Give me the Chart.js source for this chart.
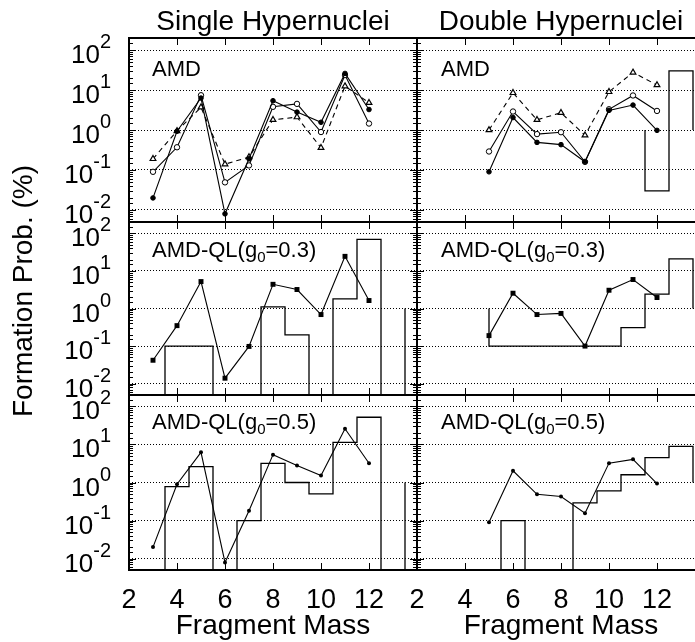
<!DOCTYPE html>
<html><head><meta charset="utf-8">
<script src="https://cdn.jsdelivr.net/npm/chart.js@4.4.1/dist/chart.umd.min.js"></script>
<style>
html,body{margin:0;padding:0;background:#fff;overflow:hidden}
#wrap{position:relative;width:695px;height:642px;overflow:hidden;background:#fff;font-family:'Liberation Sans',Arial,Helvetica,sans-serif;color:#000}
#wrap canvas{position:absolute;left:0;top:0}
.t{position:absolute;white-space:nowrap;line-height:1}
.c{text-align:center}
.sub{font-size:15px;position:relative;top:5px}
</style></head><body>
<div id="wrap">
<canvas id="c0" width="720" height="642"></canvas>
<canvas id="c1" width="720" height="642"></canvas>
<canvas id="c2" width="720" height="642"></canvas>
<canvas id="c3" width="720" height="642"></canvas>
<canvas id="c4" width="720" height="642"></canvas>
<canvas id="c5" width="720" height="642"></canvas>
<div class="t c" style="left:123px;width:300px;top:7px;font-size:28px">Single Hypernuclei</div>
<div class="t c" style="left:411px;width:300px;top:7px;font-size:28px">Double Hypernuclei</div>
<div class="t c" style="left:123px;width:300px;top:611px;font-size:28px">Fragment Mass</div>
<div class="t c" style="left:411px;width:300px;top:611px;font-size:28px">Fragment Mass</div>
<div class="t c" style="left:-147px;top:277px;width:340px;height:28px;line-height:28px;font-size:28px;transform:rotate(-90deg)">Formation Prob. (%)</div>
<div class="t" style="left:152px;top:58px;font-size:22px">AMD</div>
<div class="t" style="left:441px;top:58px;font-size:22px">AMD</div>
<div class="t" style="left:152px;top:239px;font-size:22px">AMD-QL(g<span class="sub">0</span>=0.3)</div>
<div class="t" style="left:441px;top:239px;font-size:22px">AMD-QL(g<span class="sub">0</span>=0.3)</div>
<div class="t" style="left:152px;top:411px;font-size:22px">AMD-QL(g<span class="sub">0</span>=0.5)</div>
<div class="t" style="left:441px;top:411px;font-size:22px">AMD-QL(g<span class="sub">0</span>=0.5)</div>
</div>
<script>
// ---------------- data ----------------
const massSingle = [3, 4, 5, 6, 7, 8, 9, 10, 11, 12];
const massDouble = [5, 6, 7, 8, 9, 10, 11, 12];

// AMD (top row)
const singleAMDFilled = [0.02, 0.93, 6.3, 0.008, 0.19, 5.4, 2.8, 1.56, 26, 3.25];
const singleAMDOpen   = [0.09, 0.37, 7.4, 0.049, 0.13, 3.8, 4.5, 0.89, 23.6, 1.45];
const singleAMDTri    = [0.19, 0.95, 3.7, 0.14, 0.21, 1.8, 2.1, 0.36, 12.5, 4.8];
const doubleAMDFilled = [0.09, 2.05, 0.49, 0.43, 0.16, 3.1, 4.2, 0.98];
const doubleAMDOpen   = [0.29, 2.9, 0.79, 0.88, 0.16, 3.3, 7.3, 3.0];
const doubleAMDTri    = [1.0, 8.5, 1.8, 2.7, 0.74, 9.0, 27.6, 13.3];

// AMD-QL g0=0.3 (middle row)
const singleQL3 = [0.042, 0.35, 5.2, 0.014, 0.098, 4.4, 3.2, 0.69, 24.4, 1.63];
const doubleQL3 = [0.19, 2.55, 0.69, 0.74, 0.10, 3.06, 5.9, 1.96];

// AMD-QL g0=0.5 (bottom row)
const singleQL5 = [0.02, 0.9, 6.2, 0.0079, 0.18, 5.4, 2.8, 1.53, 25.9, 3.2];
const doubleQL5 = [0.09, 2.03, 0.49, 0.43, 0.155, 3.23, 4.06, 0.94];

// histograms: bin edges, bin contents, [start level, end level]
const histDoubleAMDEdges = [11.5, 12.5, 13.5];
const histDoubleAMDVals  = [0.03, 30];
const histDoubleAMDEnds  = [1, 1];
const histSingleQL3Edges = [3.5, 5.5, 7.5, 8.5, 9.5, 10.5, 11.5, 12.5, 13.5];
const histSingleQL3Vals  = [0.1, 0, 1.1, 0.2, 0, 1.8, 69, 0];
const histSingleQL3Ends  = [0, 1];
const histDoubleQL3Edges = [5, 10.5, 11.5, 12.5, 13.5];
const histDoubleQL3Vals  = [0.1, 0.31, 2.4, 20.8];
const histDoubleQL3Ends  = [1, 1];
const histSingleQL5Edges = [3.5, 4.5, 5.5, 6.5, 7.5, 8.5, 9.5, 10.5, 11.5, 12.5, 13.5];
const histSingleQL5Vals  = [0.78, 2.6, 0, 0.1, 3.2, 1.0, 0.5, 11.4, 52, 0];
const histSingleQL5Ends  = [0, 1];
const histDoubleQL5Edges = [5.5, 6.5, 8.5, 9.5, 10.5, 11.5, 12.5, 13.5];
const histDoubleQL5Vals  = [0.1, 0, 0.29, 0.6, 1.6, 4.5, 8.9];
const histDoubleQL5Ends  = [0, 1];

// ticks
const xTickValues = [2, 4, 6, 8, 10, 12];
const xTickLabels = ['2', '4', '6', '8', '10', '12'];
const yTickValues = [100, 10, 1, 0.1, 0.01];
const yTickExps   = ['2', '1', '0', '-1', '-2'];

// ---------------- layout ----------------
const FONT = "'Liberation Sans', Arial, Helvetica, sans-serif";
const W = 720, H = 642;
const cols = [[129, 417], [417, 705]];
const rows = [[38, 222], [222, 395], [395, 570]];
const X_MIN = 2, X_MAX = 14, Y_MIN = 0.005, Y_MAX = 200;
const BELOW = 1e-4; // level used for empty bins (below the axis)

function isDecade(v) { const l = Math.log10(v); return Math.abs(l - Math.round(l)) < 1e-6; }
function pts(xs, ys) { return xs.map((x, i) => ({ x, y: ys[i] })); }
function lvl(v) { return v > 0 ? v : BELOW; }
function histPts(edges, vals, ends) {
  const p = [{ x: edges[0], y: lvl(ends[0]) }];
  vals.forEach((v, i) => p.push({ x: edges[i], y: lvl(v) }));
  p.push({ x: edges[edges.length - 1], y: lvl(ends[1]) });
  return p;
}

const sFilled = { borderColor: '#000', borderWidth: 1.1, pointStyle: 'circle', pointRadius: 2.3, pointBackgroundColor: '#000', pointBorderColor: '#000', pointBorderWidth: 1 };
const sOpen   = { borderColor: '#000', borderWidth: 1.1, pointStyle: 'circle', pointRadius: 2.7, pointBackgroundColor: '#fff', pointBorderColor: '#000', pointBorderWidth: 1 };
const sTri    = { borderColor: '#000', borderWidth: 1.1, borderDash: [5, 4], pointStyle: 'triangle', pointRadius: 3.3, pointBackgroundColor: '#fff', pointBorderColor: '#000', pointBorderWidth: 1.2 };
const sSquare = { borderColor: '#000', borderWidth: 1.1, pointStyle: 'rect', pointRadius: 3.5, pointBackgroundColor: '#000', pointBorderColor: '#000', pointBorderWidth: 0 };
const sSmall  = { borderColor: '#000', borderWidth: 1.1, pointStyle: 'circle', pointRadius: 2.0, pointBackgroundColor: '#000', pointBorderColor: '#000', pointBorderWidth: 0 };
const sHist   = { borderColor: '#000', borderWidth: 1.3, pointRadius: 0, stepped: 'before', clip: 0 };

function line(xs, ys, style) { return Object.assign({ data: pts(xs, ys), fill: false, tension: 0, clip: 0 }, style); }
function hist(e, v, ends) { return Object.assign({ data: histPts(e, v, ends), fill: false }, sHist); }

const framePlugin = {
  id: 'frame',
  afterDraw(chart, args, opts) {
    const { ctx, chartArea: a, scales: { x, y } } = chart;
    ctx.save();
    ctx.strokeStyle = '#000';
    ctx.lineWidth = 1;
    ctx.setLineDash([]);
    ctx.beginPath();
    x.ticks.forEach(t => {
      const px = Math.round(x.getPixelForValue(t.value)) + 0.5;
      ctx.moveTo(px, a.bottom); ctx.lineTo(px, a.bottom - 7);
      ctx.moveTo(px, a.top); ctx.lineTo(px, a.top + 7);
    });
    y.ticks.forEach(t => {
      const py = Math.round(y.getPixelForValue(t.value)) + 0.5;
      const len = isDecade(t.value) ? 7 : 4;
      ctx.moveTo(a.left, py); ctx.lineTo(a.left + len, py);
      ctx.moveTo(a.right, py); ctx.lineTo(a.right - len, py);
    });
    ctx.stroke();
    ctx.lineWidth = 2;
    ctx.strokeRect(a.left, a.top, a.right - a.left, a.bottom - a.top);
    if (opts.yLabels) {
      ctx.fillStyle = '#000';
      ctx.textBaseline = 'alphabetic';
      ctx.textAlign = 'right';
      const xr = a.left - 18;
      yTickValues.forEach((v, i) => {
        const py = y.getPixelForValue(v);
        ctx.font = '20px ' + FONT;
        const ew = ctx.measureText(yTickExps[i]).width;
        ctx.fillText(yTickExps[i], xr, py - 2);
        ctx.font = '26px ' + FONT;
        ctx.fillText('10', xr - ew, py + 13);
      });
    }
    ctx.restore();
  }
};

function makeChart(id, col, row, datasets) {
  const [l, r] = cols[col], [t, b] = rows[row];
  const bottomRow = row === 2;
  const xh = bottomRow ? 60 : 0;
  return new Chart(document.getElementById(id), {
    type: 'line',
    data: { datasets },
    options: {
      responsive: false, animation: false, events: [],
      devicePixelRatio: 1,
      layout: { padding: { left: l, right: W - r, top: t, bottom: H - b - xh } },
      plugins: { legend: { display: false }, tooltip: { enabled: false }, frame: { yLabels: col === 0 } },
      scales: {
        x: {
          type: 'linear', min: X_MIN, max: X_MAX, position: 'bottom',
          ticks: {
            display: bottomRow, stepSize: 2, autoSkip: false, maxRotation: 0, padding: 14,
            color: '#000', font: { family: FONT, size: 27 },
            callback: v => { const i = xTickValues.indexOf(v); return i >= 0 ? xTickLabels[i] : ''; }
          },
          grid: { display: false, drawTicks: false },
          border: { display: false },
          afterFit: s => { s.height = xh; }
        },
        y: {
          type: 'logarithmic', min: Y_MIN, max: Y_MAX, position: 'left',
          ticks: { display: false },
          grid: { drawTicks: false, lineWidth: 1, color: c => (c.tick && isDecade(c.tick.value)) ? '#000' : 'rgba(0,0,0,0)' },
          border: { display: false, dash: [1, 2] },
          afterFit: s => { s.width = 0; }
        }
      }
    },
    plugins: [framePlugin]
  });
}

makeChart('c0', 0, 0, [
  line(massSingle, singleAMDFilled, sFilled),
  line(massSingle, singleAMDOpen, sOpen),
  line(massSingle, singleAMDTri, sTri)
]);
makeChart('c1', 1, 0, [
  line(massDouble, doubleAMDFilled, sFilled),
  line(massDouble, doubleAMDOpen, sOpen),
  line(massDouble, doubleAMDTri, sTri),
  hist(histDoubleAMDEdges, histDoubleAMDVals, histDoubleAMDEnds)
]);
makeChart('c2', 0, 1, [
  line(massSingle, singleQL3, sSquare),
  hist(histSingleQL3Edges, histSingleQL3Vals, histSingleQL3Ends)
]);
makeChart('c3', 1, 1, [
  line(massDouble, doubleQL3, sSquare),
  hist(histDoubleQL3Edges, histDoubleQL3Vals, histDoubleQL3Ends)
]);
makeChart('c4', 0, 2, [
  line(massSingle, singleQL5, sSmall),
  hist(histSingleQL5Edges, histSingleQL5Vals, histSingleQL5Ends)
]);
makeChart('c5', 1, 2, [
  line(massDouble, doubleQL5, sSmall),
  hist(histDoubleQL5Edges, histDoubleQL5Vals, histDoubleQL5Ends)
]);
</script>
</body></html>
